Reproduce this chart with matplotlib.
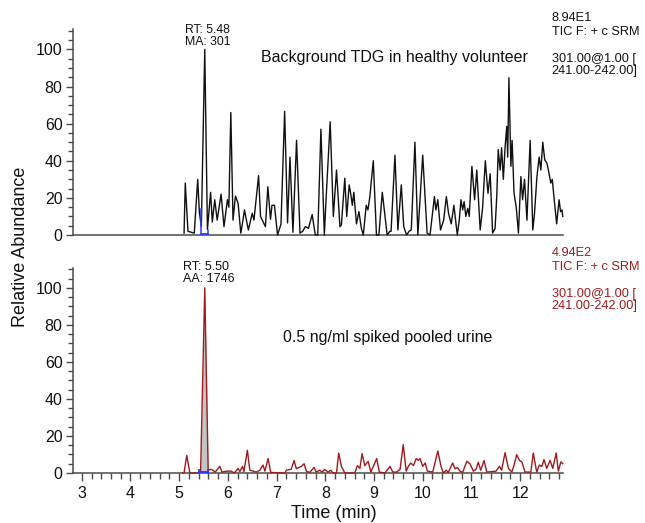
import matplotlib
matplotlib.use("Agg")
import matplotlib.pyplot as plt
import numpy as np
from matplotlib.ticker import MultipleLocator

plt.rcParams['font.family'] = ['Liberation Sans', 'DejaVu Sans']

# ---------------- data ----------------
t_top = [5.10,5.125,5.18,5.31,5.38,5.415,5.455,5.525,5.58,5.645,
         5.68,5.73,5.78,5.86,5.92,5.99,6.02,6.06,6.105,6.155,
         6.21,6.265,6.31,6.34,6.42,6.50,6.535,6.63,6.67,6.77,
         6.82,6.875,6.905,6.955,7.02,7.09,7.165,7.225,7.275,7.335,
         7.41,7.48,7.535,7.59,7.655,7.73,7.795,7.845,7.91,7.98,
         8.015,8.10,8.165,8.23,8.30,8.33,8.40,8.44,8.49,8.52,
         8.555,8.585,8.64,8.69,8.74,8.78,8.84,8.875,8.915,8.985,
         9.05,9.10,9.17,9.20,9.27,9.325,9.35,9.43,9.49,9.56,
         9.61,9.67,9.72,9.765,9.84,9.90,10.00,10.09,10.15,10.24,
         10.27,10.31,10.365,10.43,10.485,10.53,10.585,10.64,10.71,10.75,
         10.785,10.82,10.85,10.885,10.925,10.955,11.01,11.065,11.11,11.18,
         11.23,11.285,11.34,11.385,11.435,11.485,11.52,11.55,11.59,11.62,
         11.655,11.69,11.725,11.745,11.77,11.81,11.835,11.875,11.92,11.965,
         12.015,12.05,12.09,12.14,12.205,12.26,12.295,12.345,12.39,12.425,
         12.465,12.505,12.55,12.58,12.63,12.66,12.70,12.75,12.80,12.83,
         12.86,12.875]
y_top = [1,28,2,1,30,12,4.5,100,3,23,
         7,19,8,22,4.5,19,15,66,8,21,
         17,1,8,13.5,2.7,11.7,8,32,10,4.5,
         26,8.5,16,16,0,6,66.6,6.5,42,1.5,
         51,1,2,4.5,3.6,11,0,0,57,0,
         19,61,10,35,4.5,5.4,30.6,10,27,22.5,
         16,23,6,12.6,3.6,0,16,13.5,20.7,40,
         0,0,23,16,0,2,2,43,2.7,27,
         4.5,0,2,2.7,50,0,43,1,0,20.7,
         13.5,19,2.7,8,20.7,11.7,6,16,0,8,
         19,13.5,18,10,14.4,10,37,19,35,2.7,
         15,40,22.5,33,1,3.5,20.7,46,35,47,
         30,47,58.5,42,84.7,37,51,22.5,15,1,
         31.5,19,30,8,51,2.7,11.7,31.5,42,35,
         50,40.5,38.7,35,28,30,19,6,19,12.6,
         13.5,10]

t_bot = [5.075,5.10,5.155,5.22,5.39,5.44,5.525,5.595,5.66,5.74,
         5.835,5.88,5.97,6.07,6.13,6.21,6.245,6.30,6.33,6.40,
         6.45,6.52,6.585,6.655,6.72,6.76,6.825,6.88,7.17,7.20,
         7.30,7.36,7.405,7.455,7.51,7.565,7.61,7.68,7.77,7.815,
         7.885,7.935,7.99,8.055,8.11,8.16,8.23,8.275,8.33,8.40,
         8.605,8.66,8.71,8.755,8.81,8.88,8.935,9.055,9.11,9.225,
         9.33,9.385,9.465,9.535,9.60,9.66,9.705,9.755,9.81,9.865,
         9.91,9.945,10.0,10.05,10.095,10.205,10.31,10.375,10.425,10.48,
         10.525,10.615,10.665,10.71,10.765,10.82,10.905,10.97,11.04,11.095,
         11.14,11.19,11.26,11.315,11.505,11.575,11.62,11.69,11.76,11.83,
         11.875,11.93,11.985,12.035,12.10,12.22,12.27,12.34,12.395,12.445,
         12.49,12.545,12.615,12.67,12.74,12.785,12.835,12.875]
y_bot = [0,0,9.5,0,0,1,100,1.5,2,0.5,
         3.6,0.5,1,1,0,2.5,0.8,3.6,0.8,12.3,
         1.5,1,0.5,1.5,4.3,1,7.8,0.3,0,1.5,
         2,6.8,2.3,3,3.6,5,1,0.3,3,0.5,
         1.5,0.5,2,0.5,1.5,0,0,10.8,3.6,0,
         0,4,2.5,10.5,4,6.3,0.5,7.8,0.5,0,
         3.6,0.5,0.5,2,15.3,1,3.6,5.4,4,7.8,
         6.8,7.8,3.6,5.4,1,0.5,11.9,3.6,0,1.5,
         0.3,5.4,2.3,3,1,0.3,6.3,5,1,2,
         5.8,1.5,6.8,0.5,1,3.6,1.5,11,2.5,0.5,
         4.3,9.9,6.8,6,0.5,0.5,10.8,0.5,4.3,3.5,
         7.3,2.5,6.8,2.5,10.8,1,6,5]

x_ticks = [3, 4, 5, 6, 7, 8, 9, 10, 11, 12]
y_ticks = [0, 20, 40, 60, 80, 100]

top_title = "Background TDG in healthy volunteer"
bot_title = "0.5 ng/ml spiked pooled urine"
top_peak_label = "RT: 5.48\nMA: 301"
bot_peak_label = "RT: 5.50\nAA: 1746"
top_info = ["8.94E1", "TIC F: + c SRM", "301.00@1.00 [", "241.00-242.00]"]
bot_info = ["4.94E2", "TIC F: + c SRM", "301.00@1.00 [", "241.00-242.00]"]

top_window = (5.445, 5.59)
bot_window = (5.40, 5.60)
fill_window = (5.44, 5.595)

# ---------------- style ----------------
W, H = 645, 523
fig = plt.figure(figsize=(W / 100, H / 100), dpi=100)
spine_col = '#4a4a4a'
red = '#9e1b1b'
xlim = (2.82, 12.88)
ylim = (0, 111)

ax1 = fig.add_axes([73 / W, 1 - 235 / H, 490 / W, 206 / H])
ax2 = fig.add_axes([73 / W, 1 - 473 / H, 490 / W, 205.4 / H])

for ax in (ax1, ax2):
    ax.set_xlim(*xlim)
    ax.set_ylim(*ylim)
    for s in ('top', 'right'):
        ax.spines[s].set_visible(False)
    for s in ('left', 'bottom'):
        ax.spines[s].set_color(spine_col)
        ax.spines[s].set_linewidth(1.1)
    ax.set_yticks(y_ticks)
    ax.yaxis.set_minor_locator(MultipleLocator(5))
    ax.tick_params(axis='y', which='major', direction='out', length=5,
                   width=1.0, color=spine_col, labelsize=11.5, pad=2.5,
                   labelcolor='#111111')
    ax.tick_params(axis='y', which='minor', direction='out', length=3.5,
                   width=1.0, color=spine_col)
    ax.patch.set_alpha(0)

# top panel: no x ticks
ax1.set_xticks([])
ax1.tick_params(axis='x', which='both', length=0)

ax2.set_xticks(x_ticks)
ax2.xaxis.set_minor_locator(MultipleLocator(0.2))
ax2.tick_params(axis='x', which='major', direction='out', length=6,
                width=1.0, color=spine_col, labelsize=11.5, pad=3,
                labelcolor='#111111')
ax2.tick_params(axis='x', which='minor', direction='out', length=4,
                width=1.0, color=spine_col)

# traces
ax1.plot(t_top, y_top, color='#111111', lw=1.0, zorder=3, clip_on=False)

tb = np.array(t_bot)
yb = np.array(y_bot)
m = (tb >= fill_window[0]) & (tb <= fill_window[1])
ax2.fill_between(tb[m], 0, yb[m], color='#c4c4c4', zorder=2, lw=0)
ax2.plot(t_bot, y_bot, color=red, lw=1.0, zorder=3, clip_on=False)

# blue integration markers
blue = '#2a3cff'
ax1.plot([top_window[0], top_window[0]], [0.5, 14], color=blue, lw=1.1, zorder=4)
ax1.plot([top_window[0], top_window[1]], [0.6, 0.6], color=blue, lw=1.3, zorder=4)
ax1.plot([top_window[1], top_window[1]], [0.5, 2.5], color=blue, lw=1.1, zorder=4)
ax2.plot([bot_window[0], bot_window[1]], [0.6, 0.6], color=blue, lw=1.4, zorder=4,
         marker='|', markersize=5, markeredgewidth=1.3)

# peak labels
ax1.text(5.12, 113.5, top_peak_label, ha='left', va='top', fontsize=8.8,
         linespacing=0.95, color='#111111', clip_on=False)
ax2.text(5.07, 114.5, bot_peak_label, ha='left', va='top', fontsize=9,
         linespacing=0.95, color='#111111', clip_on=False)

# sub titles
ax1.text(9.42, 95.4, top_title, ha='center', va='center', fontsize=11.5,
         color='#111111')
ax2.text(9.29, 73.1, bot_title, ha='center', va='center', fontsize=11.5,
         color='#111111')

# right-side info
top_y = [18, 32, 59, 71]
bot_y = [253, 267, 294, 306]
for txt, yy in zip(top_info, top_y):
    fig.text(551.5 / W, 1 - yy / H, txt, ha='left', va='center',
             fontsize=9.2, color='#111111')
for txt, yy in zip(bot_info, bot_y):
    fig.text(551.5 / W, 1 - yy / H, txt, ha='left', va='center',
             fontsize=9.2, color=red)

# axis labels
fig.text(21 / W, 1 - 246.5 / H, "Relative Abundance", rotation=90,
         ha='center', va='center', fontsize=13, color='#111111')
fig.text(333.5 / W, 1 - 513 / H, "Time (min)", ha='center', va='center',
         fontsize=13, color='#111111')

fig.savefig("out.png", dpi=100, facecolor='white')
